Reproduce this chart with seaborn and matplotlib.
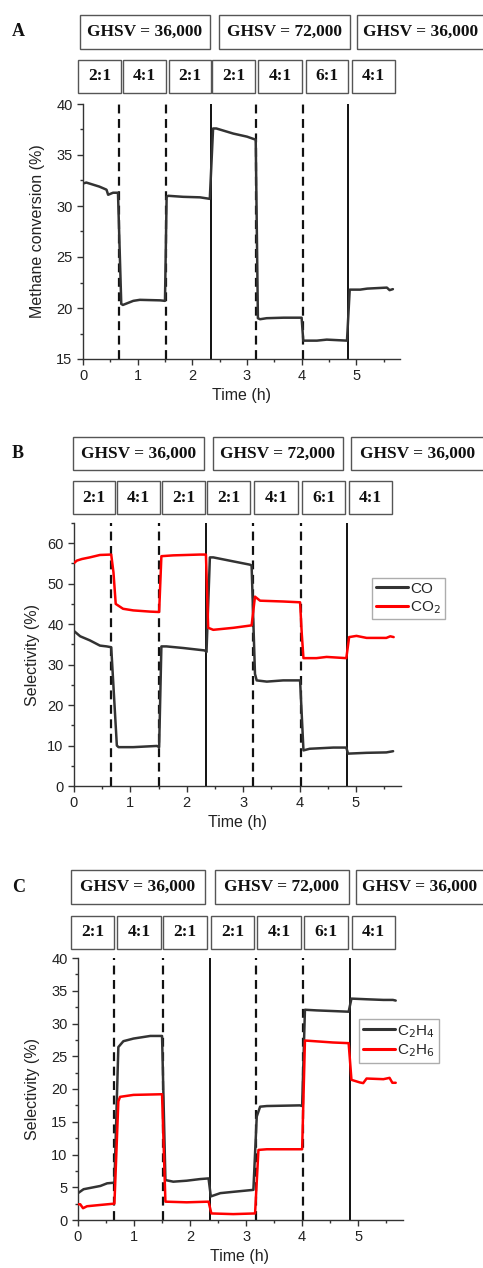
import numpy as np
import pandas as pd
import matplotlib
matplotlib.use("Agg")
import matplotlib.pyplot as plt
from matplotlib.patches import Rectangle
from matplotlib.ticker import MultipleLocator
import seaborn as sns

# --- data ---
conv_time = [0, 0.06, 0.3, 0.43, 0.46, 0.55, 0.64, 0.70, 0.73, 0.92, 1.04, 1.41, 1.50,
             1.53, 1.56, 1.83, 2.14, 2.32, 2.38, 2.44, 2.75, 3.0, 3.16, 3.20, 3.24, 3.36,
             3.67, 4.00, 4.03, 4.28, 4.46, 4.83, 4.88, 5.07, 5.2, 5.56, 5.61, 5.67]
conv = [32.2, 32.3, 31.9, 31.6, 31.1, 31.3, 31.3, 20.4, 20.3, 20.7, 20.8, 20.75, 20.7,
        30.9, 31.0, 30.9, 30.85, 30.7, 37.6, 37.6, 37.1, 36.8, 36.5, 19.0, 18.9, 19.0,
        19.05, 19.05, 16.8, 16.8, 16.9, 16.8, 21.8, 21.8, 21.9, 22.0, 21.75, 21.85]

co_time = [0, 0.11, 0.28, 0.46, 0.58, 0.66, 0.76, 0.79, 1.05, 1.47, 1.51, 1.55, 1.64,
           1.94, 2.32, 2.35, 2.41, 2.47, 2.83, 3.12, 3.15, 3.21, 3.24, 3.42, 3.71, 4.01,
           4.07, 4.18, 4.6, 4.83, 4.86, 5.19, 5.54, 5.66]
co = [38.3, 37.0, 36.0, 34.7, 34.5, 34.3, 10.0, 9.6, 9.6, 9.9, 9.6, 34.5, 34.5,
      34.1, 33.5, 33.1, 56.5, 56.5, 55.5, 54.7, 54.5, 27.7, 26.1, 25.8, 26.1, 26.1,
      8.8, 9.2, 9.5, 9.5, 8.0, 8.2, 8.3, 8.6]

co2_time = [0, 0.05, 0.14, 0.28, 0.46, 0.66, 0.70, 0.74, 0.87, 1.05, 1.35, 1.51, 1.55,
            1.76, 2.23, 2.34, 2.38, 2.47, 2.83, 3.15, 3.21, 3.30, 3.71, 4.01, 4.04, 4.07,
            4.30, 4.48, 4.83, 4.88, 5.01, 5.19, 5.54, 5.61, 5.67]
co2 = [55.1, 55.7, 56.1, 56.5, 57.1, 57.2, 52.8, 45.0, 43.8, 43.4, 43.1, 43.0, 56.8,
       57.0, 57.2, 57.2, 39.1, 38.6, 39.1, 39.7, 46.8, 45.8, 45.6, 45.4, 37.6, 31.6,
       31.6, 31.9, 31.6, 36.8, 37.1, 36.6, 36.6, 37.0, 36.8]

c2h4_time = [0, 0.10, 0.22, 0.40, 0.52, 0.65, 0.72, 0.81, 0.99, 1.29, 1.50, 1.56, 1.70,
             1.94, 2.18, 2.33, 2.37, 2.54, 2.77, 3.13, 3.19, 3.25, 3.37, 3.96, 4.00, 4.05,
             4.26, 4.55, 4.83, 4.88, 5.15, 5.45, 5.62, 5.67]
c2h4 = [4.1, 4.7, 4.9, 5.2, 5.6, 5.7, 26.4, 27.3, 27.7, 28.1, 28.1, 6.1, 5.85,
        6.0, 6.25, 6.35, 3.6, 4.1, 4.3, 4.6, 15.8, 17.3, 17.4, 17.5, 17.4, 32.1,
        32.0, 31.9, 31.8, 33.8, 33.7, 33.6, 33.6, 33.5]

c2h6_time = [0, 0.04, 0.09, 0.16, 0.40, 0.65, 0.72, 0.75, 0.99, 1.50, 1.56, 1.94, 2.33,
             2.38, 2.77, 3.16, 3.22, 3.37, 4.00, 4.05, 4.55, 4.83, 4.88, 5.03, 5.09, 5.15,
             5.45, 5.56, 5.61, 5.67]
c2h6 = [2.4, 2.4, 1.8, 2.1, 2.3, 2.5, 18.1, 18.8, 19.1, 19.2, 2.8, 2.7, 2.8,
        1.0, 0.9, 1.0, 10.7, 10.8, 10.8, 27.4, 27.1, 27.0, 21.4, 21.0, 20.9, 21.6,
        21.5, 21.7, 20.95, 20.95]

# ratio changes (dashed) and GHSV changes (solid)
ratio_switch = [0.65, 1.51, 3.17, 4.02]
ghsv_switch = [2.35, 4.85]

ghsv_labels = ["GHSV = 36,000", "GHSV = 72,000", "GHSV = 36,000"]
ratio_labels = ["2:1", "4:1", "2:1", "2:1", "4:1", "6:1", "4:1"]

# --- layout (pixels) ---
W, H = 483, 1268
DARK = "#333333"
RED = "#ff0000"

PANELS = {
    "A": dict(ax=(83, 104, 400, 359), letter=(18, 32),
              ghsv_y=(15, 49), ghsv_x=[(80, 210), (219, 350), (357, 484)],
              ratio_y=(60, 93),
              ratio_x=[(78, 121), (123, 166), (169, 211), (212, 255), (258, 302), (306, 348), (352, 395)],
              ylab_x=38, xlab_y=395),
    "B": dict(ax=(74, 523, 401, 786), letter=(18, 453),
              ghsv_y=(437, 470), ghsv_x=[(73, 204), (213, 343), (351, 484)],
              ratio_y=(481, 514),
              ratio_x=[(73, 115), (117, 160), (162, 205), (207, 250), (254, 298), (302, 345), (349, 392)],
              ylab_x=33, xlab_y=823),
    "C": dict(ax=(78, 958, 403, 1220), letter=(19, 887),
              ghsv_y=(870, 904), ghsv_x=[(71, 205), (215, 349), (356, 484)],
              ratio_y=(916, 949),
              ratio_x=[(71, 114), (117, 161), (163, 207), (211, 254), (257, 301), (304, 348), (352, 395)],
              ylab_x=33, xlab_y=1256),
}


def fx(x):
    return x / W


def fy(y):
    return 1 - y / H


def draw_box(fig, x0, x1, y0, y1, text):
    fig.patches.append(Rectangle((fx(x0), fy(y1)), fx(x1) - fx(x0), fy(y0) - fy(y1),
                                 transform=fig.transFigure, fill=False,
                                 edgecolor="#555555", linewidth=1.0))
    fig.text(fx((x0 + x1) / 2), fy((y0 + y1) / 2), text, ha="center", va="center",
             family="Liberation Serif", weight="bold", fontsize=12.5, color="#111111")


def setup_panel(fig, key, ylim, ymajor, yminor, ylabel):
    p = PANELS[key]
    l, t, r, b = p["ax"]
    ax = fig.add_axes([fx(l), fy(b), fx(r) - fx(l), fy(t) - fy(b)])
    ax.set_xlim(0, 5.8)
    ax.set_ylim(*ylim)
    ax.xaxis.set_major_locator(MultipleLocator(1))
    ax.xaxis.set_minor_locator(MultipleLocator(0.5))
    ax.yaxis.set_major_locator(MultipleLocator(ymajor))
    ax.yaxis.set_minor_locator(MultipleLocator(yminor))
    ax.tick_params(which="major", direction="out", length=4, width=1, labelsize=10.5,
                   colors=DARK, labelcolor="#222222")
    ax.tick_params(which="minor", direction="out", length=2.5, width=1, colors=DARK)
    sns.despine(ax=ax)
    for s in ("left", "bottom"):
        ax.spines[s].set_color(DARK)
        ax.spines[s].set_linewidth(1.0)
    ax.set_xlabel("")
    ax.set_ylabel("")
    fig.text(fx(p["ylab_x"]), fy((t + b) / 2), ylabel, rotation=90, ha="center",
             va="center", fontsize=11.5, color="#222222")
    fig.text(fx((l + 401) / 2), fy(p["xlab_y"]), "Time (h)", ha="center", va="center",
             fontsize=11.5, color="#222222")
    fig.text(fx(p["letter"][0]), fy(p["letter"][1]), key, ha="center", va="center",
             family="Liberation Serif", weight="bold", fontsize=13, color="#111111")
    for (x0, x1), lab in zip(p["ghsv_x"], ghsv_labels):
        draw_box(fig, x0, x1, *p["ghsv_y"], lab)
    for (x0, x1), lab in zip(p["ratio_x"], ratio_labels):
        draw_box(fig, x0, x1, *p["ratio_y"], lab)
    for xv in ratio_switch:
        ax.axvline(xv, color="#111111", lw=1.6, ls=(0, (4, 2.5)), zorder=1)
    for xv in ghsv_switch:
        ax.axvline(xv, color="#111111", lw=1.4, zorder=1)
    return ax


def add_legend(ax, fig, x, y):
    leg = ax.legend(loc="upper left", bbox_to_anchor=(fx(x), fy(y)),
                    bbox_transform=fig.transFigure, frameon=True, fancybox=False,
                    edgecolor="#999999", fontsize=11, handlelength=2.1,
                    handletextpad=0.15, borderpad=0.25, labelspacing=0.2,
                    borderaxespad=0)
    leg.get_frame().set_linewidth(1.0)
    for line in leg.get_lines():
        line.set_linewidth(2.2)
    return leg


sns.set_style("ticks")
plt.rcParams["font.family"] = ["Liberation Sans", "DejaVu Sans"]

fig = plt.figure(figsize=(W / 100, H / 100), dpi=100)

# --- A: methane conversion ---
axA = setup_panel(fig, "A", (15, 40), 5, 2.5, "Methane conversion (%)")
sns.lineplot(x=conv_time, y=conv, ax=axA, color=DARK, lw=1.8, zorder=3)

# --- B: CO / CO2 selectivity ---
axB = setup_panel(fig, "B", (0, 65), 10, 5, "Selectivity (%)")
axB.set_yticks(np.arange(0, 61, 10))
sns.lineplot(x=co_time, y=co, ax=axB, color=DARK, lw=1.8, label="CO", zorder=3)
sns.lineplot(x=co2_time, y=co2, ax=axB, color=RED, lw=1.8, label="CO$_2$", zorder=3)
add_legend(axB, fig, 372, 578)

# --- C: C2 selectivity ---
axC = setup_panel(fig, "C", (0, 40), 5, 2.5, "Selectivity (%)")
sns.lineplot(x=c2h4_time, y=c2h4, ax=axC, color=DARK, lw=1.8, label="C$_2$H$_4$", zorder=3)
sns.lineplot(x=c2h6_time, y=c2h6, ax=axC, color=RED, lw=1.8, label="C$_2$H$_6$", zorder=3)
add_legend(axC, fig, 359, 1019)

fig.savefig("out.png", dpi=100)
